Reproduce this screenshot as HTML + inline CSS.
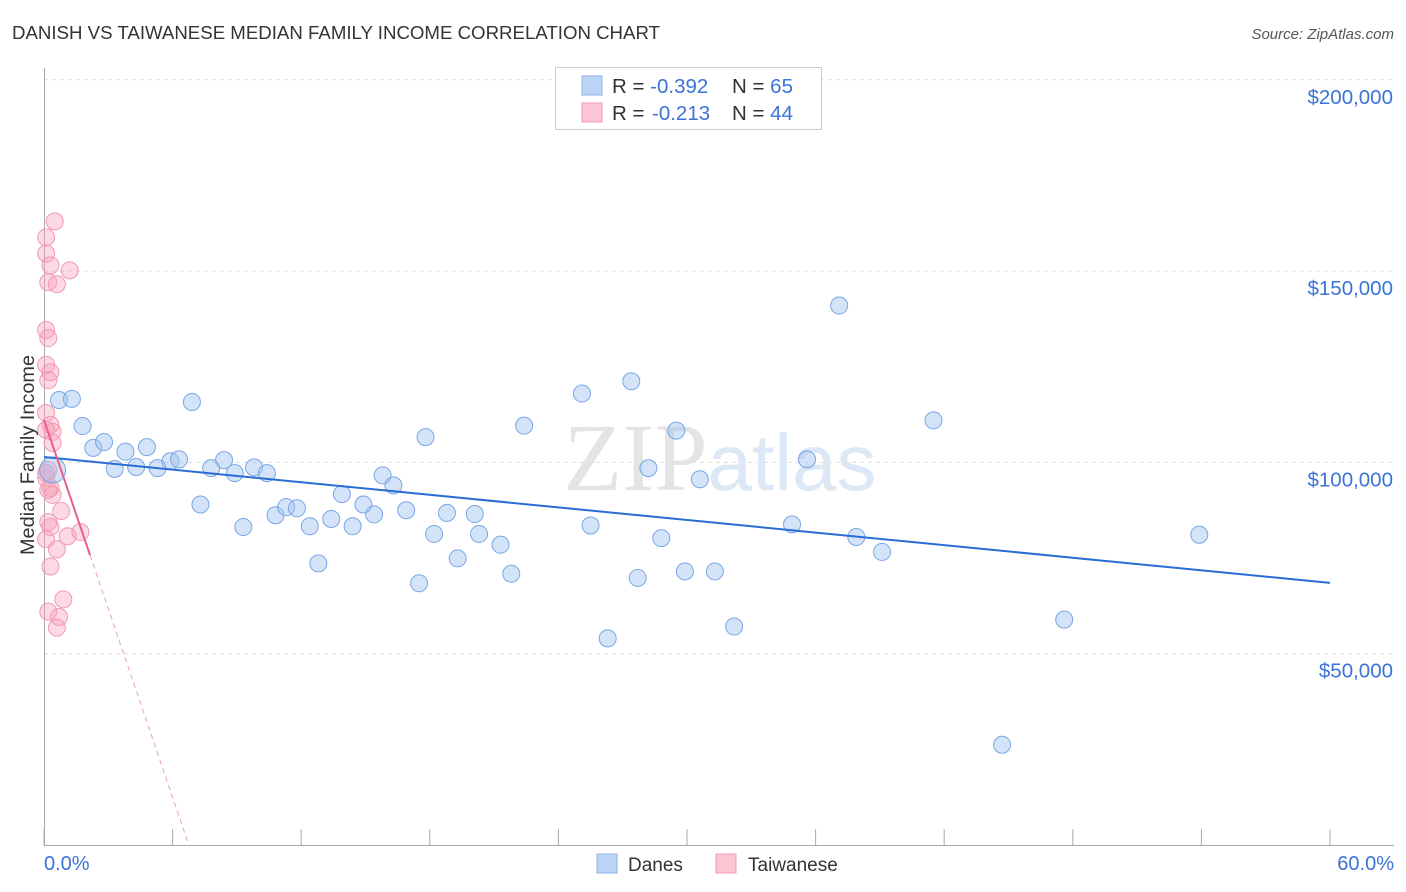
<!DOCTYPE html>
<html><head><meta charset="utf-8"><style>
body{margin:0;background:#fff;width:1406px;height:892px;overflow:hidden;font-family:"Liberation Sans",sans-serif}
svg{position:absolute;left:0;top:0}
</style></head><body>
<svg width="1406" height="892">
<text x="12" y="39" font-size="18" fill="#333" textLength="648" lengthAdjust="spacingAndGlyphs">DANISH VS TAIWANESE MEDIAN FAMILY INCOME CORRELATION CHART</text>
<text x="1394" y="39" font-size="15" fill="#555" font-style="italic" text-anchor="end">Source: ZipAtlas.com</text>
<g id="grid"></g>
<text x="720" y="490" font-size="96" fill="#e4e4e4" text-anchor="middle" font-family="Liberation Serif">ZIP<tspan fill="#dce8f5" font-family="Liberation Sans" font-size="80">atlas</tspan></text>
<g id="pts"></g>
<g id="lines"></g>
<text transform="translate(34,455) rotate(-90)" font-size="19" fill="#333" text-anchor="middle" textLength="200" lengthAdjust="spacingAndGlyphs">Median Family Income</text>
<text x="44" y="870" font-size="20" fill="#3b73d9">0.0%</text>
<text x="1394" y="870" font-size="20" fill="#3b73d9" text-anchor="end">60.0%</text>
<g>
<rect x="555.5" y="67.5" width="266" height="62" fill="#fff" stroke="#ccc"/>
<rect x="582" y="76" width="20" height="19" fill="#bcd4f5" stroke="#8fb2e8"/>
<rect x="582" y="103" width="20" height="19" fill="#fcc5d4" stroke="#f09ab4"/>
<text x="612" y="93" font-size="20.5" fill="#333">R = <tspan fill="#3b73d9">-0.392</tspan><tspan x="732">N = </tspan><tspan fill="#3b73d9">65</tspan></text>
<text x="612" y="120" font-size="20.5" fill="#333">R = <tspan fill="#3b73d9" x="652">-0.213</tspan><tspan x="732">N = </tspan><tspan fill="#3b73d9">44</tspan></text>
</g>
<g>
<rect x="597" y="854" width="20" height="19" fill="#bcd4f5" stroke="#8fb2e8"/>
<text x="628" y="871" font-size="19" fill="#333">Danes</text>
<rect x="716" y="854" width="20" height="19" fill="#fcc5d4" stroke="#f09ab4"/>
<text x="748" y="871" font-size="19" fill="#333">Taiwanese</text>
</g>
</svg>
<script>
const yTicks=[50000,100000,150000,200000];
const yTickLabels=["$50,000","$100,000","$150,000","$200,000"];
const daneX=[0.7,1.3,1.8,2.3,2.8,3.3,3.8,4.3,4.8,5.3,5.9,6.3,6.9,7.3,7.8,8.4,8.9,9.3,9.8,10.4,10.8,11.3,11.8,12.4,12.8,13.4,13.9,14.4,14.9,15.4,15.8,16.3,16.9,17.5,17.8,18.2,18.8,19.3,20.1,20.3,21.3,21.8,22.4,25.1,25.5,26.3,27.4,27.7,28.2,28.8,29.5,29.9,30.6,31.3,32.2,34.9,35.6,37.1,37.9,39.1,41.5,44.7,47.6,53.9,0.4];
const daneY=[116300,116600,109500,103800,105300,98300,102800,98800,104000,98500,100300,100800,115800,89000,98500,100600,97200,83100,98700,97200,86200,88300,88000,83300,73600,85200,91700,83300,89000,86400,96600,94000,87500,68400,106600,81300,86800,74900,86500,81300,78500,70900,109600,118000,83500,54000,121200,69800,98500,80200,108300,71500,95600,71500,57100,83800,100800,141000,80500,76600,111000,26200,58900,81100,98000];
const taiX=[0.5,0.1,0.1,0.3,1.2,0.2,0.6,0.1,0.2,0.1,0.3,0.2,0.1,0.3,0.1,0.4,0.4,0.2,0.1,0.3,0.4,0.8,0.2,0.3,1.1,1.7,0.1,0.6,0.3,0.9,0.2,0.7,0.6,0.1,0.2];
const taiY=[163000,158800,154600,151500,150200,147100,146600,134600,132500,125500,123600,121500,112900,109800,108500,108000,105100,98000,95900,93300,91500,87300,84400,83100,80700,81800,79900,77300,72800,64200,61000,59600,56800,97200,92800];
const danFit=[101400,68500];
const taiFit=[111100,-16440];
const xS=v=>44+v/60*1286, yS=v=>845-v/50000*191.3;
const NS='http://www.w3.org/2000/svg';
function mk(t,a,p){const e=document.createElementNS(NS,t);for(const k in a)e.setAttribute(k,a[k]);p.appendChild(e);return e;}
const g=document.getElementById('grid');
yTicks.forEach((t,i)=>{
 const l=mk('line',{x1:44,x2:1394,y1:yS(t),y2:yS(t),stroke:'#ddd','stroke-dasharray':'4,4'},g);
 
 
 const tx=mk('text',{x:1393,y:yS(t)+24,'font-size':20.5,fill:'#3b73d9','text-anchor':'end'},g);
 tx.textContent=yTickLabels[i];
 
 
});
const ax=mk('line',{x1:44.5,x2:44.5,y1:68,y2:845,stroke:'#aaa'},g);


const bx=mk('line',{x1:44,x2:1394,y1:845.5,y2:845.5,stroke:'#aaa'},g);


for(let i=0;i<=10;i++){const x=xS(i*6);
 const t=mk('line',{x1:x,x2:x,y1:829,y2:845,stroke:'#aaa'},g);
 
 }
const p=document.getElementById('pts');
taiX.forEach((x,i)=>{const c=mk('circle',{cx:xS(x),cy:yS(taiY[i]),r:8.5,fill:'rgba(248,160,185,0.4)',stroke:'#f09ab4','stroke-width':1},p);
 
 });
daneX.forEach((x,i)=>{const c=mk('circle',{cx:xS(x),cy:yS(daneY[i]),r:i==64?13:8.5,fill:'rgba(160,196,240,0.45)',stroke:'#7aa6e6','stroke-width':1},p);
 
 });
const L=document.getElementById('lines');
const bl=mk('line',{x1:xS(0),y1:yS(danFit[0]),x2:xS(60),y2:yS(danFit[1]),stroke:'#2a6dd6','stroke-width':2},L);


const xe=2.15, x0=-taiFit[0]/taiFit[1];
const pl=mk('line',{x1:xS(0),y1:yS(taiFit[0]),x2:xS(xe),y2:yS(taiFit[0]+taiFit[1]*xe),stroke:'#e8608a','stroke-width':2},L);


const pd=mk('line',{x1:xS(xe),y1:yS(taiFit[0]+taiFit[1]*xe),x2:xS(x0),y2:yS(0),stroke:'#e8a0b8','stroke-width':1,'stroke-dasharray':'5,4'},L);


</script>
</body></html>
